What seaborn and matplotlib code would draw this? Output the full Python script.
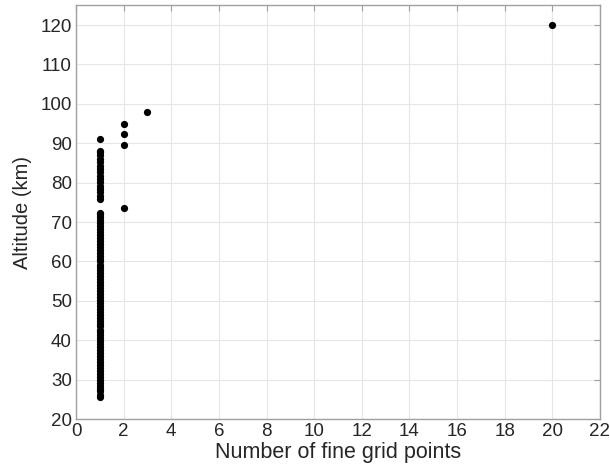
import matplotlib
matplotlib.use("Agg")
import matplotlib.pyplot as plt
import seaborn as sns
import pandas as pd

# x = 1 column (lower block, upper block, isolated point)
alt_n1_low = [25.5, 26.2, 27.0, 27.7, 28.5, 29.2, 30.0, 30.7, 31.5, 32.2, 33.0, 33.7,
              34.5, 35.2, 36.0, 36.7, 37.5, 38.2, 39.0, 39.7, 40.5, 41.2, 42.0, 42.7,
              43.5, 44.2, 45.0, 45.7, 46.5, 47.2, 48.0, 48.7, 49.5, 50.2, 51.0, 51.7,
              52.5, 53.2, 54.0, 54.7, 55.5, 56.2, 57.0, 57.7, 58.5, 59.2, 60.0, 60.7,
              61.5, 62.2, 63.0, 63.7, 64.5, 65.2, 66.0, 66.7, 67.5, 68.2, 69.0, 69.7,
              70.5, 71.2, 72.0, 72.3]
alt_n1_up = [75.8, 76.7, 77.5, 78.4, 79.2, 80.1, 80.9, 81.8, 82.6, 83.5, 84.3, 85.2,
             86.0, 86.9, 87.7, 88.1, 91.1]
alt_n2 = [73.6, 89.6, 92.4, 94.8]
alt_n3 = [97.9]
alt_n20 = [120.0]

x_ticks = [0, 2, 4, 6, 8, 10, 12, 14, 16, 18, 20, 22]
y_ticks = [20, 30, 40, 50, 60, 70, 80, 90, 100, 110, 120]

alts = alt_n1_low + alt_n1_up + alt_n2 + alt_n3 + alt_n20
npts = ([1] * len(alt_n1_low + alt_n1_up) + [2] * len(alt_n2)
        + [3] * len(alt_n3) + [20] * len(alt_n20))
df = pd.DataFrame({"n": npts, "alt": alts})

sns.set_style("white")
plt.rcParams["font.family"] = ["Liberation Sans", "DejaVu Sans"]

fig = plt.figure(figsize=(6.1, 4.69), dpi=100)
ax = fig.add_axes([0.1246, 0.1066, 0.859, 0.882])

sns.scatterplot(data=df, x="n", y="alt", ax=ax, color="black", s=27,
                edgecolor="black", linewidth=0, zorder=3, legend=False)

ax.set_xlim(0, 22)
ax.set_ylim(20, 125)
ax.set_xticks(x_ticks)
ax.set_yticks(y_ticks)
ax.grid(True, color="#e6e6e6", linewidth=0.8)
ax.set_axisbelow(True)
for sp in ax.spines.values():
    sp.set_visible(True)
    sp.set_color("#a0a0a0")
    sp.set_linewidth(1.0)
ax.tick_params(direction="in", length=4, color="#a0a0a0", top=True, right=True,
               labelsize=13.5, labelcolor="#262626", pad=3)
ax.set_xlabel("Number of fine grid points", fontsize=15.5, color="#262626", labelpad=1)
ax.set_ylabel("Altitude (km)", fontsize=14.5, color="#262626", labelpad=6)

fig.savefig("out.png", dpi=100)
